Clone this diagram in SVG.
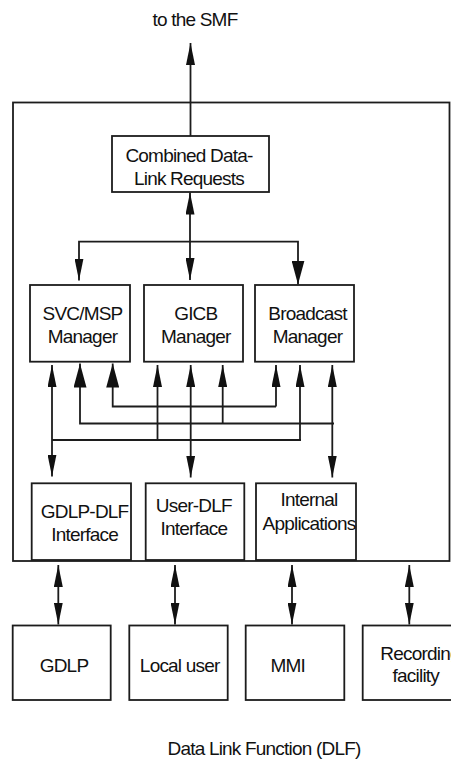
<svg xmlns="http://www.w3.org/2000/svg" width="451" height="760" viewBox="0 0 451 760">
<style>
  .box { fill: #ffffff; stroke: #1c1c1c; stroke-width: 1.8; }
  .ln { fill: none; stroke: #1c1c1c; stroke-width: 1.8; }
  .t { font-family: "Liberation Sans", Arial, sans-serif; font-size: 19px; letter-spacing: -0.8px; fill: #111111; text-anchor: middle; }
</style>
<defs>
  <marker id="ah" markerUnits="userSpaceOnUse" markerWidth="22" markerHeight="9" refX="22" refY="4.5" orient="auto-start-reverse" viewBox="0 0 22 9">
    <path d="M0,0 L22,4.5 L0,9 Z" fill="#111111"/>
  </marker>
  <marker id="ahL" markerUnits="userSpaceOnUse" markerWidth="24" markerHeight="13" refX="24" refY="6.5" orient="auto-start-reverse" viewBox="0 0 24 13">
    <path d="M0,0 L24,6.5 L0,13 Z" fill="#111111"/>
  </marker>
</defs>
<rect width="451" height="760" fill="#ffffff"/>

<g id="outer-frame">
  <rect class="box" x="13" y="102.5" width="436.5" height="458.5" fill="none"/>
</g>

<text class="t" x="195" y="26">to the SMF</text>

<g id="connectors">
  <path class="ln" d="M190.5,136 V43" marker-end="url(#ah)"/>
  <path class="ln" d="M190,192.5 V280" marker-start="url(#ah)" marker-end="url(#ah)"/>
  <path class="ln" d="M190,241.7 H79 V280.5" marker-end="url(#ah)"/>
  <path class="ln" d="M190,241.7 H298 V284.5" marker-end="url(#ahL)"/>
  <path class="ln" d="M52,365 V476.5" marker-start="url(#ah)" marker-end="url(#ah)"/>
  <path class="ln" d="M52,440 H301"/>
  <path class="ln" d="M80,363.5 V423.5 H334" marker-start="url(#ahL)"/>
  <path class="ln" d="M112.7,363.5 V406.5 H276" marker-start="url(#ahL)"/>
  <path class="ln" d="M157.5,365 V440" marker-start="url(#ah)"/>
  <path class="ln" d="M190.7,365 V477.5" marker-start="url(#ah)" marker-end="url(#ah)"/>
  <path class="ln" d="M222.7,365 V423.5" marker-start="url(#ah)"/>
  <path class="ln" d="M276,365 V406.5" marker-start="url(#ah)"/>
  <path class="ln" d="M300,365 V440" marker-start="url(#ah)"/>
  <path class="ln" d="M332.3,365 V477.5" marker-start="url(#ah)" marker-end="url(#ah)"/>
  <path class="ln" d="M58.3,565 V624.5" marker-start="url(#ah)" marker-end="url(#ah)"/>
  <path class="ln" d="M175,565 V624.5" marker-start="url(#ah)" marker-end="url(#ah)"/>
  <path class="ln" d="M292,565 V624.5" marker-start="url(#ah)" marker-end="url(#ah)"/>
  <path class="ln" d="M409.3,565 V624.5" marker-start="url(#ah)" marker-end="url(#ah)"/>
</g>

<g id="combined">
  <rect class="box" x="112" y="136" width="157" height="56"/>
  <text class="t" x="189" y="162">Combined Data-</text>
  <text class="t" x="189" y="185">Link Requests</text>
</g>

<g id="svc-msp-manager">
  <rect class="box" x="30" y="285" width="100" height="76.7"/>
  <text class="t" x="82.5" y="320">SVC/MSP</text>
  <text class="t" x="82.5" y="343">Manager</text>
</g>
<g id="gicb-manager">
  <rect class="box" x="144" y="285" width="99" height="76.7"/>
  <text class="t" x="195.8" y="320">GICB</text>
  <text class="t" x="195.8" y="343">Manager</text>
</g>
<g id="broadcast-manager">
  <rect class="box" x="255" y="285" width="99" height="76.7"/>
  <text class="t" x="307.5" y="320">Broadcast</text>
  <text class="t" x="307.5" y="343">Manager</text>
</g>

<g id="gdlp-dlf-interface">
  <rect class="box" x="31.7" y="483.3" width="99.3" height="76.7"/>
  <text class="t" x="84.6" y="518.3">GDLP-DLF</text>
  <text class="t" x="84.6" y="540.7">Interface</text>
</g>
<g id="user-dlf-interface">
  <rect class="box" x="145.7" y="483.3" width="98.6" height="76.7"/>
  <text class="t" x="193.8" y="511.7">User-DLF</text>
  <text class="t" x="193.8" y="535">Interface</text>
</g>
<g id="internal-applications">
  <rect class="box" x="256" y="483.3" width="100" height="76.7"/>
  <text class="t" x="309" y="506">Internal</text>
  <text class="t" x="309" y="529.5">Applications</text>
</g>

<g id="gdlp">
  <rect class="box" x="12.7" y="625.5" width="98" height="74.5"/>
  <text class="t" x="64" y="672">GDLP</text>
</g>
<g id="local-user">
  <rect class="box" x="129.3" y="625.5" width="98.4" height="74.5"/>
  <text class="t" x="179.7" y="671.5">Local user</text>
</g>
<g id="mmi">
  <rect class="box" x="245.7" y="625.5" width="98.6" height="74.5"/>
  <text class="t" x="287.8" y="672">MMI</text>
</g>
<g id="recording-facility">
  <rect class="box" x="362.7" y="625.5" width="100" height="74.5"/>
  <text class="t" x="420" y="660">Recording</text>
  <text class="t" x="415.8" y="682">facility</text>
</g>

<text class="t" x="264" y="755">Data Link Function (DLF)</text>
</svg>
